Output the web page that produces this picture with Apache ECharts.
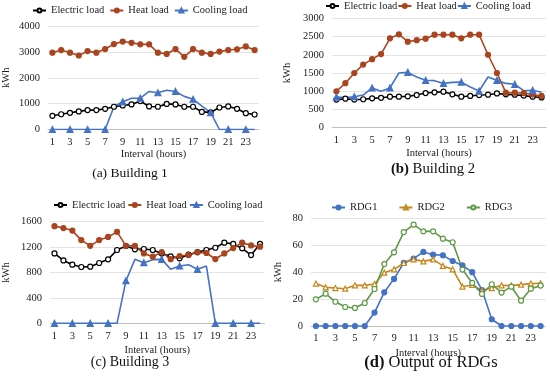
<!DOCTYPE html>
<html><head><meta charset="utf-8">
<script src="https://cdn.jsdelivr.net/npm/echarts@6/dist/echarts.min.js"></script>
<style>html,body{margin:0;padding:0;background:#fff}#c{width:550px;height:381px}</style>
</head><body><div id="c"></div>
<script>
const hours = ['1','2','3','4','5','6','7','8','9','10','11','12','13','14','15','16','17','18','19','20','21','22','23','24'];

const b1Electric = [530,590,645,700,750,750,800,880,930,970,1100,890,880,990,970,880,880,680,660,850,890,800,630,580];
const b1Heat = [2970,3070,2970,2860,3030,2970,3110,3300,3400,3350,3290,3290,2970,2920,3110,2810,3110,2970,2920,3010,3070,3100,3210,3070];
const b1Cooling = [0,0,0,0,0,0,0,880,1070,1210,1210,1470,1420,1520,1470,1280,1170,900,650,0,0,0,0,0];

const b2Electric = [770,795,770,780,805,820,850,850,860,895,950,970,987,915,850,870,895,905,940,915,905,880,850,830];
const b2Heat = [1000,1220,1500,1730,1880,2020,2450,2560,2360,2400,2440,2550,2550,2550,2450,2550,2550,2000,1500,960,960,950,910,870];
const b2Cooling = [840,830,850,895,1090,1000,1090,1500,1517,1390,1300,1290,1215,1243,1250,1115,1005,1390,1300,1215,1190,1015,1025,970];

const b3Electric = [1100,990,923,887,892,950,1007,1154,1217,1165,1170,1154,1100,1054,1023,1080,1122,1154,1190,1270,1250,1180,1075,1250];
const b3Heat = [1530,1500,1460,1310,1220,1310,1360,1440,1220,1220,1100,1050,1120,1010,1060,1075,1117,1107,1012,1100,1185,1270,1227,1206];
const b3Cooling = [0,0,0,0,0,0,0,0,671,1007,955,1002,1007,850,902,923,850,902,0,0,0,0,0,0];

const rdg1 = [0,0,0,0,0,0,10,25,35,47,50,55,53,52.5,48.3,45,40,26.7,5,0,0,0,0,0];
const rdg2 = [31.5,28.7,28.2,27.7,30.2,30.2,31.2,39.6,42.1,46.8,49.5,48,49.5,44.6,42.1,29.2,30.5,26.3,28.2,30.2,30,30.7,31.5,31.7];
const rdg3 = [19.8,24,18,14.1,13.4,17.1,27.5,46,54.7,69.8,75.3,70.3,70.3,64.9,62.2,41.9,32,23.8,31,24.8,29.2,18.8,27.7,30];

const yMax = [4000, 3000, 1600, 80];
const yInt = [1000, 500, 400, 20];

const SERIF = '"Liberation Serif", "Times New Roman", serif';
const C_EL = '#000000', C_HEAT = '#A9441F', C_COOL = '#4472C4';
const C_R1 = '#4472C4', C_R2 = '#C5881C', C_R3 = '#5E9A45';

const grids = [
  {left: 44, top: 26, width: 215, height: 103.5},
  {left: 332, top: 18.3, width: 214, height: 109.4},
  {left: 45.5, top: 221.7, width: 219, height: 101.6},
  {left: 311, top: 218.3, width: 234.5, height: 107.7}
];
const yNameGap = [36, 39, 38, 27];
const xNameGap = [19, 20, 21, 22];

const xAxes = grids.map((g, i) => ({
  type: 'category', gridIndex: i, data: hours, boundaryGap: true,
  axisLine: {lineStyle: {color: '#BFBFBF'}}, axisTick: {show: false},
  axisLabel: {interval: 1, color: '#222', fontFamily: SERIF, fontSize: 10.5, margin: 7},
  name: 'Interval (hours)', nameLocation: 'middle', nameGap: xNameGap[i],
  nameTextStyle: {color: '#222', fontFamily: SERIF, fontSize: 10.5}
}));
const yAxes = grids.map((g, i) => ({
  type: 'value', gridIndex: i, min: 0, max: yMax[i], interval: yInt[i],
  axisLine: {show: false}, axisTick: {show: false},
  splitLine: {lineStyle: {color: '#E3E3E3'}},
  axisLabel: {color: '#222', fontFamily: SERIF, fontSize: 10.5, margin: 8, formatter: v => String(v)},
  name: 'kWh', nameLocation: 'middle', nameGap: yNameGap[i], nameRotate: 90,
  nameTextStyle: {color: '#222', fontFamily: SERIF, fontSize: 10.5}
}));

function mk(name, data, idx, color, symbol, hollow, size) {
  return {
    type: 'line', name: name, data: data, xAxisIndex: idx, yAxisIndex: idx,
    symbol: symbol, symbolSize: size, showSymbol: true,
    lineStyle: {color: color, width: 1.6},
    itemStyle: {color: hollow ? '#ffffff' : color, borderColor: color, borderWidth: 1.2},
    z: 3, animation: false
  };
}
function loadSeries(idx, el, heat, cool) {
  return [
    mk('Electric load', el, idx, C_EL, 'circle', true, 5),
    mk('Heat load', heat, idx, C_HEAT, 'circle', false, 5),
    mk('Cooling load', cool, idx, C_COOL, 'triangle', false, 6)
  ];
}
const series = [].concat(
  loadSeries(0, b1Electric, b1Heat, b1Cooling),
  loadSeries(1, b2Electric, b2Heat, b2Cooling),
  loadSeries(2, b3Electric, b3Heat, b3Cooling),
  [mk('RDG1', rdg1, 3, C_R1, 'circle', false, 5),
   mk('RDG2', rdg2, 3, C_R2, 'triangle', true, 5),
   mk('RDG3', rdg3, 3, C_R3, 'circle', true, 5)]
);

function legend(left, top, names, gap) {
  return {
    left: left, top: top, data: names, itemWidth: 13, itemHeight: 5, itemGap: gap,
    width: 300, padding: 0,
    textStyle: {color: '#222', fontFamily: SERIF, fontSize: 10.5}, selectedMode: false
  };
}
const loadNames = ['Electric load', 'Heat load', 'Cooling load'];

const chart = echarts.init(document.getElementById('c'), null, {renderer: 'canvas'});
chart.setOption({
  backgroundColor: '#ffffff',
  animation: false,
  grid: grids,
  xAxis: xAxes,
  yAxis: yAxes,
  legend: [
    legend(32, 5, loadNames, 5),
    legend(325, 0.5, loadNames, 0),
    legend(53, 199.5, loadNames, 2),
    legend(331, 202, ['RDG1', 'RDG2', 'RDG3'], 21)
  ],
  series: series,
  graphic: [
    {type: 'text', x: 130, y: 173, style: {text: '(a) Building 1', font: '13.5px ' + SERIF, fill: '#111', align: 'center', verticalAlign: 'middle'}},
    {type: 'text', x: 433, y: 169, style: {text: '{b|(b)} Building 2', rich: {b: {fontWeight: 'bold', fontFamily: SERIF, fontSize: 14.7}}, font: '14.7px ' + SERIF, fill: '#111', align: 'center', verticalAlign: 'middle'}},
    {type: 'text', x: 130, y: 362, style: {text: '(c) Building 3', font: '14px ' + SERIF, fill: '#111', align: 'center', verticalAlign: 'middle'}},
    {type: 'text', x: 431, y: 363, style: {text: '{b|(d)} Output of RDGs', rich: {b: {fontWeight: 'bold', fontFamily: SERIF, fontSize: 16.5}}, font: '16.5px ' + SERIF, fill: '#111', align: 'center', verticalAlign: 'middle'}}
  ]
});
</script>
</body></html>
